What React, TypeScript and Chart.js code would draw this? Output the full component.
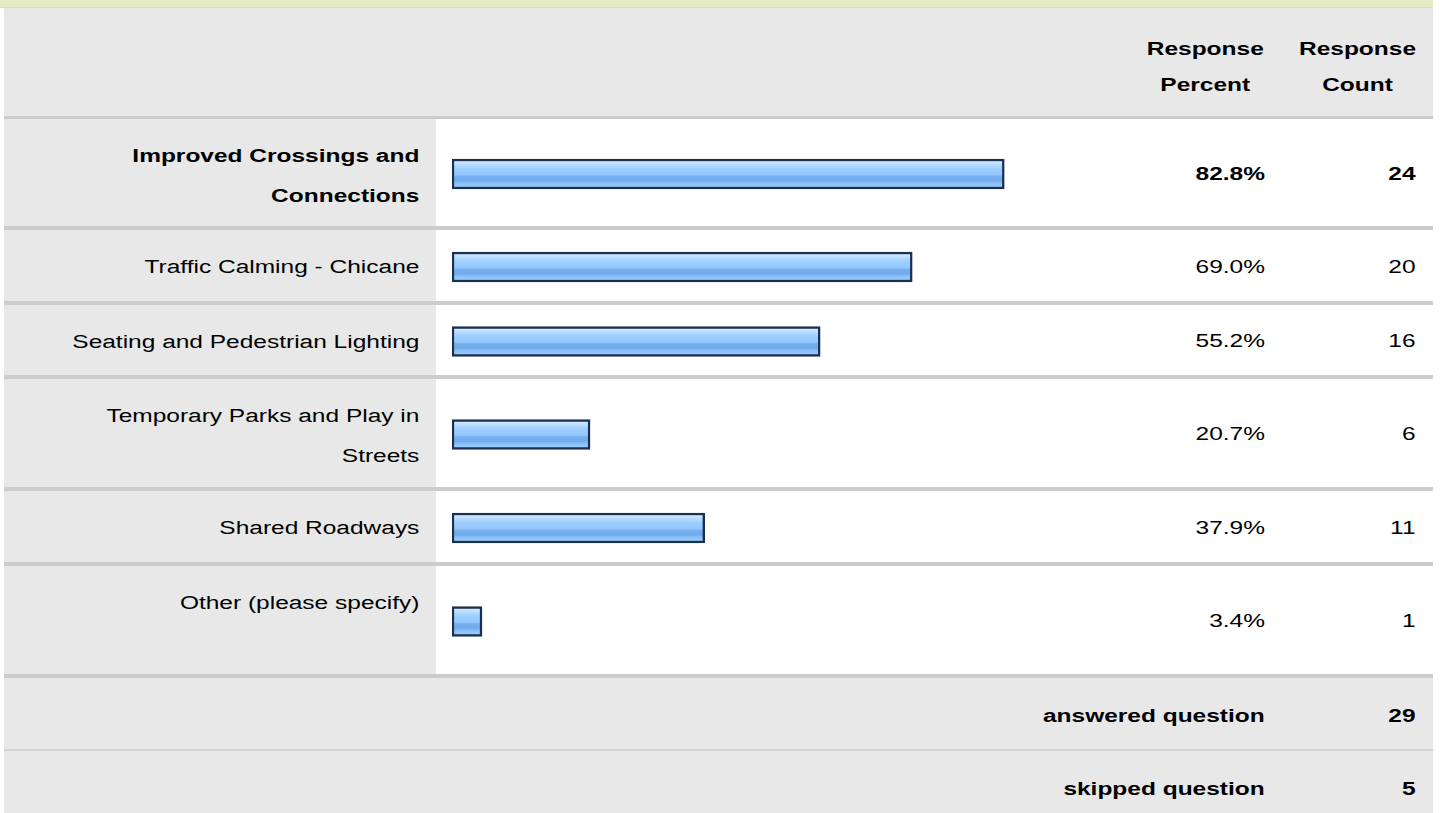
import React, { useEffect, useRef } from "react";
import { Chart, registerables } from "chart.js";

Chart.register(...registerables);

// ---------- data ----------
const categories = [
  "Improved Crossings and Connections",
  "Traffic Calming - Chicane",
  "Seating and Pedestrian Lighting",
  "Temporary Parks and Play in Streets",
  "Shared Roadways",
  "Other (please specify)",
];
const responsePercents = [82.8, 69.0, 55.2, 20.7, 37.9, 3.4];
const responseCounts = [24, 20, 16, 6, 11, 1];
const boldRows = [true, false, false, false, false, false];
const columnHeaders = ["Response Percent", "Response Count"];
const summaryLabels = ["answered question", "skipped question"];
const summaryValues = [29, 5];
const percentRange = [0, 100];

// ---------- layout ----------
const FONT = "'Liberation Sans', Arial, Helvetica, sans-serif";
const FONT_SIZE = 18;
const SX = 1.36; // horizontal stretch of the page text
const TABLE_L = 4;
const TABLE_R = 1433;
const LABEL_R = 436;
const PCT_L = 1129;
const CNT_L = 1282;
const ROW_TOPS = [119, 230, 305, 379, 491, 566];
const ROW_HEIGHTS = [107, 71, 70, 108, 71, 108];
const GRAY = "#e8e8e8";
const SEP = "#cccccc";
const TEXT = "#000000";

function barFill(ctx: any) {
  const chart = ctx.chart;
  const a = chart.chartArea;
  if (!a) return "#99ccff";
  const cy = (a.top + a.bottom) / 2;
  const g = chart.ctx.createLinearGradient(0, cy - 15, 0, cy + 15);
  g.addColorStop(0.0, "#dcefff");
  g.addColorStop(0.12, "#c8e4ff");
  g.addColorStop(0.22, "#b0d8ff");
  g.addColorStop(0.35, "#9ccdff");
  g.addColorStop(0.52, "#94c8fd");
  g.addColorStop(0.58, "#78b1ef");
  g.addColorStop(0.72, "#70aaec");
  g.addColorStop(0.8, "#88bff7");
  g.addColorStop(1.0, "#a4d2ff");
  return g;
}

function BarCell({ index }: { index: number }) {
  const ref = useRef<HTMLCanvasElement | null>(null);
  const w = PCT_L - LABEL_R;
  const h = ROW_HEIGHTS[index];
  useEffect(() => {
    if (!ref.current) return;
    const chart = new Chart(ref.current, {
      type: "bar",
      data: {
        labels: [categories[index]],
        datasets: [
          {
            data: [responsePercents[index]],
            backgroundColor: barFill as any,
            borderColor: "#1b2f50",
            borderWidth: 2.5,
            borderSkipped: false,
            barThickness: 30,
            minBarLength: 30,
          },
        ],
      },
      options: {
        indexAxis: "y",
        responsive: false,
        maintainAspectRatio: false,
        animation: false,
        events: [],
        layout: { padding: { left: 16, right: 10, top: 3, bottom: 0 } },
        plugins: { legend: { display: false }, tooltip: { enabled: false } },
        scales: {
          x: { min: percentRange[0], max: percentRange[1], display: false },
          y: { display: false },
        },
      },
    });
    return () => chart.destroy();
  }, [index]);
  return (
    <canvas
      ref={ref}
      width={w}
      height={h}
      style={{ position: "absolute", left: LABEL_R, top: ROW_TOPS[index], width: w, height: h }}
    />
  );
}

function TextBox(props: {
  x: number;
  y: number;
  w: number;
  h: number;
  text: string;
  bold?: boolean;
  align?: "right" | "center";
  vAlign?: "top" | "center";
  padTop?: number;
  padRight?: number;
  padLeft?: number;
  lineHeight?: number;
}) {
  const {
    x, y, w, h, text, bold = false, align = "right", vAlign = "center",
    padTop = 0, padRight = 17, padLeft = 17, lineHeight = 40,
  } = props;
  const inner = (w - padLeft - padRight) / SX;
  return (
    <div
      style={{
        position: "absolute",
        left: x,
        top: y,
        width: w,
        height: h,
        boxSizing: "border-box",
        paddingTop: padTop,
        paddingRight: padRight,
        paddingLeft: padLeft,
        display: "flex",
        flexDirection: "column",
        justifyContent: vAlign === "top" ? "flex-start" : "center",
        alignItems: align === "right" ? "flex-end" : "center",
      }}
    >
      <div
        style={{
          width: inner,
          textAlign: align,
          transform: `scaleX(${SX})`,
          transformOrigin: align === "right" ? "right center" : "center center",
          lineHeight: `${lineHeight}px`,
          fontWeight: bold ? "bold" : "normal",
          fontSize: FONT_SIZE,
          fontFamily: FONT,
          color: TEXT,
        }}
      >
        {text}
      </div>
    </div>
  );
}

function Rect({ x, y, w, h, c }: { x: number; y: number; w: number; h: number; c: string }) {
  return <div style={{ position: "absolute", left: x, top: y, width: w, height: h, background: c }} />;
}

export default function App() {
  const tableW = TABLE_R - TABLE_L;
  const lastRowBottom = ROW_TOPS[5] + ROW_HEIGHTS[5];
  return (
    <div
      style={{
        position: "relative",
        width: 1440,
        height: 813,
        overflow: "hidden",
        background: "#ffffff",
        fontFamily: FONT,
      }}
    >
      <style>{`html,body{margin:0;padding:0;background:#fff;}`}</style>
      {/* top strip */}
      <Rect x={0} y={0} w={TABLE_R} h={7} c="#e6ebc3" />
      <Rect x={0} y={7} w={TABLE_R} h={1} c="#d9deb2" />
      {/* header */}
      <Rect x={TABLE_L} y={8} w={tableW} h={108} c={GRAY} />
      <Rect x={TABLE_L} y={116} w={tableW} h={3} c={SEP} />
      <TextBox x={PCT_L} y={8} w={CNT_L - PCT_L} h={108} text={columnHeaders[0]} bold align="center"
        vAlign="top" padTop={23} padLeft={0} padRight={0} lineHeight={36} />
      <TextBox x={CNT_L} y={8} w={TABLE_R - CNT_L} h={108} text={columnHeaders[1]} bold align="center"
        vAlign="top" padTop={23} padLeft={0} padRight={0} lineHeight={36} />
      {/* data rows */}
      {categories.map((cat, i) => (
        <React.Fragment key={cat}>
          <Rect x={TABLE_L} y={ROW_TOPS[i]} w={LABEL_R - TABLE_L} h={ROW_HEIGHTS[i]} c={GRAY} />
          <Rect x={TABLE_L} y={ROW_TOPS[i] + ROW_HEIGHTS[i]} w={tableW} h={4} c={SEP} />
          <TextBox x={TABLE_L} y={ROW_TOPS[i]} w={LABEL_R - TABLE_L} h={ROW_HEIGHTS[i]} text={cat}
            bold={boldRows[i]} vAlign="top" padTop={17} padLeft={50} />
          <BarCell index={i} />
          <TextBox x={PCT_L} y={ROW_TOPS[i] + 1} w={CNT_L - PCT_L} h={ROW_HEIGHTS[i]}
            text={responsePercents[i].toFixed(1) + "%"} bold={boldRows[i]} padLeft={0} />
          <TextBox x={CNT_L} y={ROW_TOPS[i] + 1} w={TABLE_R - CNT_L} h={ROW_HEIGHTS[i]}
            text={String(responseCounts[i])} bold={boldRows[i]} padLeft={0} />
        </React.Fragment>
      ))}
      {/* summary rows */}
      <Rect x={TABLE_L} y={lastRowBottom + 4} w={tableW} h={71} c={GRAY} />
      <Rect x={TABLE_L} y={lastRowBottom + 75} w={tableW} h={2} c="#d2d2d2" />
      <Rect x={TABLE_L} y={lastRowBottom + 77} w={tableW} h={120} c={GRAY} />
      {summaryLabels.map((lab, j) => {
        const top = lastRowBottom + 4 + j * 73;
        return (
          <React.Fragment key={lab}>
            <TextBox x={TABLE_L} y={top} w={CNT_L - TABLE_L} h={71} text={lab} bold vAlign="top" padTop={18} />
            <TextBox x={CNT_L} y={top} w={TABLE_R - CNT_L} h={71} text={String(summaryValues[j])} bold
              vAlign="top" padTop={18} padLeft={0} />
          </React.Fragment>
        );
      })}
    </div>
  );
}
